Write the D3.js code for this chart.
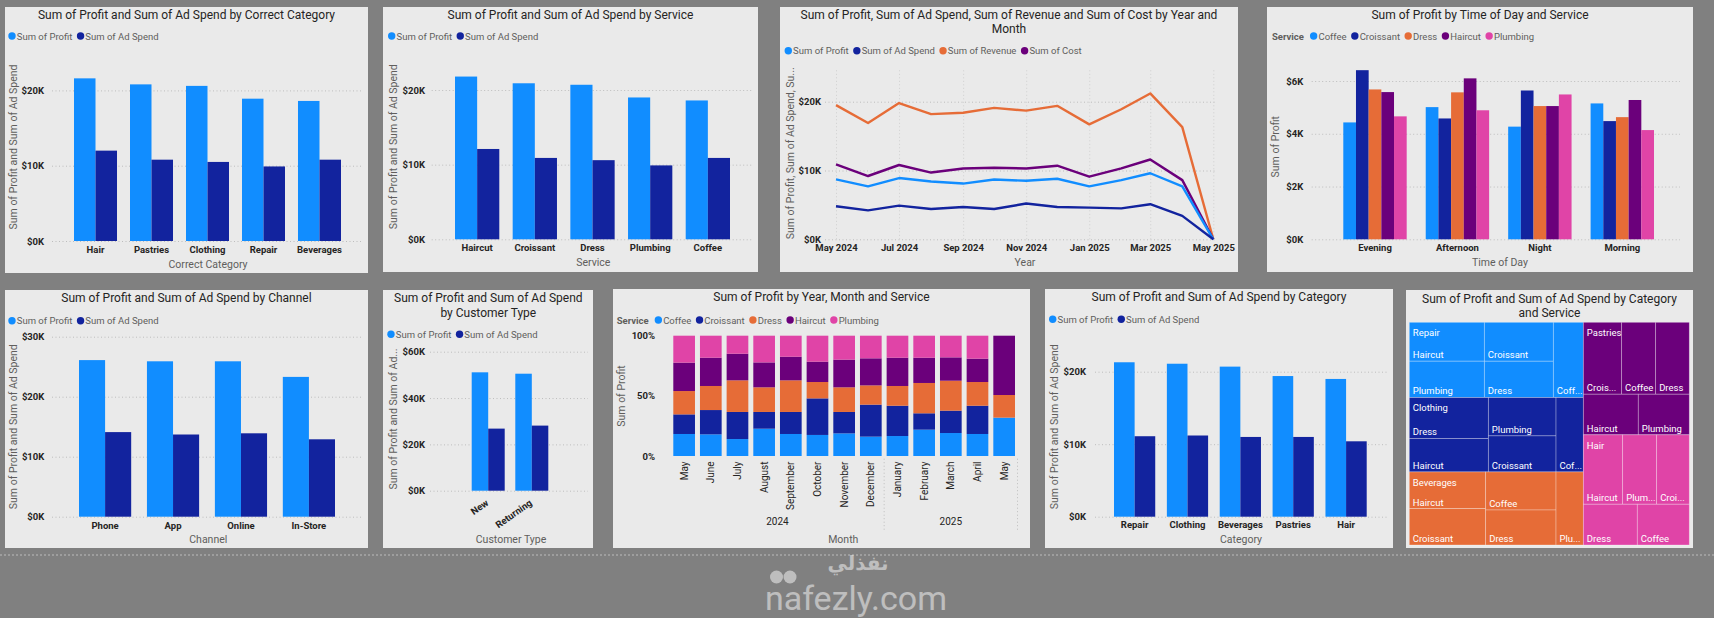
<!DOCTYPE html>
<html>
<head>
<meta charset="utf-8">
<script src="https://cdn.jsdelivr.net/npm/d3@7"></script>
<style>
body { margin: 0; background: #808080; }
svg { display: block; }
</style>
</head>
<body>
<div id="main"></div>
<script>
// ---- data ----
var seriesPA = ["Sum of Profit", "Sum of Ad Spend"];

var correctCategories = ["Hair", "Pastries", "Clothing", "Repair", "Beverages"];
var correctProfit = [21600, 20800, 20600, 18900, 18600];
var correctAdSpend = [12000, 10800, 10500, 9900, 10800];

var services = ["Haircut", "Croissant", "Dress", "Plumbing", "Coffee"];
var serviceProfit = [21800, 20900, 20700, 19000, 18600];
var serviceAdSpend = [12100, 10900, 10600, 9900, 10900];

var lineSeries = ["Sum of Profit", "Sum of Ad Spend", "Sum of Revenue", "Sum of Cost"];
var months = ["2024-05", "2024-06", "2024-07", "2024-08", "2024-09", "2024-10", "2024-11",
              "2024-12", "2025-01", "2025-02", "2025-03", "2025-04", "2025-05"];
var profitByMonth = [8700, 7700, 8900, 8400, 8100, 8700, 8500, 8800, 7700, 8600, 9600, 7700, 0];
var adSpendByMonth = [4800, 4200, 4900, 4400, 4700, 4400, 5200, 4700, 4600, 4500, 5100, 3400, 0];
var revenueByMonth = [19500, 16900, 19800, 18200, 18400, 19100, 18700, 19400, 16700, 18900, 21200, 16300, 0];
var costByMonth = [10900, 9200, 10800, 9700, 10300, 10400, 10300, 10700, 9100, 10300, 11600, 8600, 0];
var lineTicks = ["2024-05", "2024-07", "2024-09", "2024-11", "2025-01", "2025-03", "2025-05"];

var serviceLegend = ["Coffee", "Croissant", "Dress", "Haircut", "Plumbing"];
var timesOfDay = ["Evening", "Afternoon", "Night", "Morning"];
var coffeeByTime = [4430, 5010, 4270, 5150];
var croissantByTime = [6410, 4580, 5640, 4480];
var dressByTime = [5680, 5570, 5050, 4630];
var haircutByTime = [5580, 6100, 5050, 5280];
var plumbingByTime = [4660, 4890, 5490, 4140];

var channels = ["Phone", "App", "Online", "In-Store"];
var channelProfit = [26100, 25900, 25900, 23300];
var channelAdSpend = [14100, 13700, 13900, 12900];

var customerTypes = ["New", "Returning"];
var customerProfit = [51100, 50500];
var customerAdSpend = [26800, 28100];

var monthNames = ["May", "June", "July", "August", "September", "October", "November",
                  "December", "January", "February", "March", "April", "May"];
var monthYears = [2024, 2024, 2024, 2024, 2024, 2024, 2024, 2024, 2025, 2025, 2025, 2025, 2025];
var coffeeShare = [18.3, 18.0, 14.1, 22.7, 18.3, 17.5, 18.8, 16.1, 16.6, 21.9, 19.1, 18.3, 31.9];
var croissantShare = [16.3, 20.2, 22.5, 13.9, 18.3, 30.4, 17.8, 26.6, 25.2, 13.6, 18.6, 23.5, 0];
var dressShare = [19.4, 20.0, 26.3, 20.5, 26.3, 13.6, 20.5, 16.0, 16.4, 25.2, 24.9, 19.7, 18.8];
var haircutShare = [23.6, 23.5, 22.1, 20.7, 19.6, 16.9, 23.0, 22.5, 23.5, 21.0, 19.4, 19.4, 49.3];
var plumbingShare = [22.4, 18.3, 15.0, 22.2, 17.5, 21.6, 19.9, 18.8, 18.3, 18.3, 18.0, 19.1, 0];

var categories = ["Repair", "Clothing", "Beverages", "Pastries", "Hair"];
var categoryProfit = [21300, 21100, 20700, 19400, 19000];
var categoryAdSpend = [11100, 11200, 11000, 11000, 10400];

// treemap: profit by category (rows) and service (columns of serviceLegend)
var repairByService = [3670, 4370, 4070, 4750, 4430];
var clothingByService = [3310, 3970, 5280, 4300, 4230];
var beveragesByService = [4360, 4520, 4010, 4560, 3250];
var pastriesByService = [3980, 4480, 3940, 3630, 3370];
var hairByService = [3450, 3690, 3580, 4440, 3840];

// ---- styles ----
var cBlue = "#118DFF", cNavy = "#12239E", cOrange = "#E66C37", cPurple = "#6B007B", cPink = "#E044A7";
var colors2 = [cBlue, cNavy];
var colors5 = [cBlue, cNavy, cOrange, cPurple, cPink];
var FONT = "Roboto, 'Noto Sans', sans-serif";
var W = 1714, H = 618;

var svg = d3.select('#main').append('svg')
			.attr('width', W)
			.attr('height', H)
			.attr('font-family', FONT);

svg.append('rect').attr('width', W).attr('height', H).attr('fill', '#808080');

function fmtK(v) { return '$' + (v / 1000) + 'K'; }

function box(x0, y0, x1, y1) {
	svg.append('rect')
	   .attr('x', x0).attr('y', y0)
	   .attr('width', x1 - x0).attr('height', y1 - y0)
	   .attr('fill', '#eaeaea');
}

function title(cx, y, lines, gap) {
	lines.forEach(function (t, i) {
		svg.append('text')
		   .attr('x', cx).attr('y', y + i * (gap || 14.5))
		   .attr('text-anchor', 'middle')
		   .attr('dominant-baseline', 'central')
		   .attr('font-size', 12)
		   .attr('fill', '#252423')
		   .text(t);
	});
}

function legend(x, y, names, colors, head) {
	var cur = x;
	if (head) {
		var h = svg.append('text')
				   .attr('x', cur).attr('y', y)
				   .attr('dominant-baseline', 'central')
				   .attr('font-size', 9.5).attr('font-weight', 'bold')
				   .attr('fill', '#605e5c')
				   .text(head);
		cur += h.node().getComputedTextLength() + 6;
	}
	names.forEach(function (n, i) {
		svg.append('circle')
		   .attr('cx', cur + 3.7).attr('cy', y).attr('r', 3.7)
		   .attr('fill', colors[i]);
		var t = svg.append('text')
				   .attr('x', cur + 8.5).attr('y', y)
				   .attr('dominant-baseline', 'central')
				   .attr('font-size', 9.5)
				   .attr('fill', '#605e5c')
				   .text(n);
		cur += 8.5 + t.node().getComputedTextLength() + 4.5;
	});
}

function styleAxis(g) {
	g.attr('font-family', FONT).attr('font-size', 9.5);
	g.select('.domain').remove();
	g.selectAll('.tick text').attr('fill', '#252423');
}

function yAxis(y, ticks, fmt, labelX, gx0, gx1) {
	var g = svg.append('g')
			   .attr('transform', 'translate(' + gx0 + ',0)')
			   .call(d3.axisLeft(y).tickValues(ticks).tickFormat(fmt)
					   .tickSize(-(gx1 - gx0)).tickPadding(gx0 - labelX));
	styleAxis(g);
	g.selectAll('.tick line').attr('stroke', '#bdbdbd').attr('stroke-dasharray', '1,2.5');
	g.selectAll('.tick text').attr('font-weight', 'bold');
	return g;
}

function xAxis(x, y0, cy, fmt) {
	var ax = d3.axisBottom(x).tickSize(0);
	if (fmt) ax.tickFormat(fmt);
	var g = svg.append('g').attr('transform', 'translate(0,' + y0 + ')').call(ax);
	styleAxis(g);
	g.selectAll('.tick text')
	 .attr('y', cy - y0).attr('dy', '0.35em')
	 .attr('font-weight', 'bold');
	return g;
}

function axisTitle(cx, cy, t) {
	svg.append('text')
	   .attr('x', cx).attr('y', cy)
	   .attr('text-anchor', 'middle').attr('dominant-baseline', 'central')
	   .attr('font-size', 10.5).attr('fill', '#605e5c')
	   .text(t);
}

function yTitle(x, cy, t) {
	svg.append('text')
	   .attr('transform', 'translate(' + x + ',' + cy + ') rotate(-90)')
	   .attr('text-anchor', 'middle').attr('dominant-baseline', 'central')
	   .attr('font-size', 10.5).attr('fill', '#605e5c')
	   .text(t);
}

// band scale whose first band starts at x0 and last band ends at x1
function bandScale(domain, x0, x1, p) {
	var n = domain.length, step = (x1 - x0) / (n - p);
	return d3.scaleBand().domain(domain)
			 .range([x0 - step * p / 2, x1 + step * p / 2])
			 .paddingInner(p).paddingOuter(p / 2);
}

function bars(cats, seriesVals, colors, x0, x1, p, y) {
	var x = bandScale(cats, x0, x1, p);
	var xs = d3.scaleBand().domain(d3.range(seriesVals.length)).range([0, x.bandwidth()]);
	seriesVals.forEach(function (vals, s) {
		svg.append('g').attr('fill', colors[s])
		   .selectAll('rect').data(vals).join('rect')
		   .attr('x', function (d, i) { return x(cats[i]) + xs(s); })
		   .attr('y', function (d) { return y(d); })
		   .attr('width', xs.bandwidth())
		   .attr('height', function (d) { return y(0) - y(d); });
	});
	return x;
}

// ---- 1. by Correct Category ----
box(5, 7, 368, 273);
title(186.5, 15, ["Sum of Profit and Sum of Ad Spend by Correct Category"]);
legend(8.3, 36, seriesPA, colors2);
var y1 = d3.scaleLinear().domain([0, 20000]).range([241, 90.4]);
yAxis(y1, [0, 10000, 20000], fmtK, 44, 52, 363);
var x1 = bars(correctCategories, [correctProfit, correctAdSpend], colors2, 74, 341, 0.232, y1);
xAxis(x1, 241, 250);
axisTitle(208, 264, "Correct Category");
yTitle(13, 147, "Sum of Profit and Sum of Ad Spend");

// ---- 2. by Service ----
box(383, 7, 758, 272);
title(570.5, 15, ["Sum of Profit and Sum of Ad Spend by Service"]);
legend(388, 36, seriesPA, colors2);
var y2 = d3.scaleLinear().domain([0, 20000]).range([239.3, 90]);
yAxis(y2, [0, 10000, 20000], fmtK, 425, 431.7, 753);
var x2 = bars(services, [serviceProfit, serviceAdSpend], colors2, 455, 730, 0.232, y2);
xAxis(x2, 239.3, 247.7);
axisTitle(593.3, 262, "Service");
yTitle(393.3, 146.7, "Sum of Profit and Sum of Ad Spend");

// ---- 3. lines by Year and Month ----
box(780, 7, 1238, 272);
title(1009, 15, ["Sum of Profit, Sum of Ad Spend, Sum of Revenue and Sum of Cost by Year and", "Month"], 14);
legend(784.6, 50.7, lineSeries, [cBlue, cNavy, cOrange, cPurple]);
var parseMonth = d3.timeParse('%Y-%m');
var dates = months.map(parseMonth);
var xT = d3.scaleTime().domain([dates[0], dates[dates.length - 1]]).range([836, 1213.3]);
var y3 = d3.scaleLinear().domain([0, 20000]).range([239.3, 101.7]);
yAxis(y3, [0, 10000, 20000], fmtK, 821, 825, 1216.7);
var gx3 = svg.append('g').attr('transform', 'translate(0,239.3)')
			 .call(d3.axisBottom(xT).tickValues(lineTicks.map(parseMonth))
					 .tickFormat(d3.timeFormat('%b %Y')).tickSize(-(239.3 - 68)));
styleAxis(gx3);
gx3.selectAll('.tick line').attr('stroke', '#cfcfcf').attr('stroke-dasharray', '1,2.5');
gx3.selectAll('.tick text').attr('y', 8.7).attr('dy', '0.35em').attr('font-weight', 'bold');

var lineGen = d3.line()
				.x(function (d, i) { return xT(dates[i]); })
				.y(function (d) { return y3(d); });
[revenueByMonth, costByMonth, profitByMonth, adSpendByMonth].forEach(function (vals, i) {
	svg.append('path')
	   .attr('d', lineGen(vals))
	   .attr('fill', 'none')
	   .attr('stroke', [cOrange, cPurple, cBlue, cNavy][i])
	   .attr('stroke-width', 2.4)
	   .attr('stroke-linejoin', 'round');
});
axisTitle(1025, 262, "Year");
yTitle(790, 153.3, "Sum of Profit, Sum of Ad Spend, Su...");

// ---- 4. by Time of Day and Service ----
box(1267, 7, 1693, 272);
title(1480, 15, ["Sum of Profit by Time of Day and Service"]);
legend(1272, 36, serviceLegend, colors5, "Service");
var y4 = d3.scaleLinear().domain([0, 6000]).range([239.3, 81]);
yAxis(y4, [0, 2000, 4000, 6000], fmtK, 1303.3, 1311.7, 1680);
var x4 = bars(timesOfDay, [coffeeByTime, croissantByTime, dressByTime, haircutByTime, plumbingByTime],
			  colors5, 1343.3, 1654, 0.231, y4);
xAxis(x4, 239.3, 247.7);
axisTitle(1500, 262, "Time of Day");
yTitle(1275.7, 146.7, "Sum of Profit");

// ---- 5. by Channel ----
box(5, 290, 368, 548);
title(186.5, 298.3, ["Sum of Profit and Sum of Ad Spend by Channel"]);
legend(8.3, 320.7, seriesPA, colors2);
var y5 = d3.scaleLinear().domain([0, 30000]).range([516.7, 336.7]);
yAxis(y5, [0, 10000, 20000, 30000], fmtK, 44.3, 52, 363);
var x5 = bars(channels, [channelProfit, channelAdSpend], colors2, 79, 335, 0.232, y5);
xAxis(x5, 516.7, 526);
axisTitle(208.3, 539.3, "Channel");
yTitle(13, 426.7, "Sum of Profit and Sum of Ad Spend");

// ---- 6. by Customer Type ----
box(383, 290, 593, 548);
title(488.3, 298.3, ["Sum of Profit and Sum of Ad Spend", "by Customer Type"], 15);
legend(387.3, 334.3, seriesPA, colors2);
var y6 = d3.scaleLinear().domain([0, 60000]).range([490.7, 351.7]);
yAxis(y6, [0, 20000, 40000, 60000], fmtK, 425, 430, 588);
var x6 = bars(customerTypes, [customerProfit, customerAdSpend], colors2, 471.7, 548.3, 0.243, y6);
var gx6 = svg.append('g').attr('transform', 'translate(0,490.7)').call(d3.axisBottom(x6).tickSize(0));
styleAxis(gx6);
gx6.selectAll('.tick text')
   .attr('x', 0).attr('y', 0).attr('dy', '0.35em')
   .attr('text-anchor', 'end').attr('font-weight', 'bold')
   .attr('transform', 'translate(-1,11) rotate(-35)');
axisTitle(511, 539.3, "Customer Type");
yTitle(393.3, 419, "Sum of Profit and Sum of Ad...");

// ---- 7. 100% stacked by Year, Month and Service ----
box(613, 289, 1030, 548);
title(821.5, 296.7, ["Sum of Profit by Year, Month and Service"]);
legend(616.7, 320, serviceLegend, colors5, "Service");
var shareCols = [coffeeShare, croissantShare, dressShare, haircutShare, plumbingShare];
var stackRows = monthNames.map(function (m, i) {
	var r = { idx: i };
	serviceLegend.forEach(function (s, k) { r[s] = shareCols[k][i]; });
	return r;
});
var stacked = d3.stack().keys(serviceLegend).offset(d3.stackOffsetExpand)(stackRows);
var x7 = bandScale(d3.range(monthNames.length), 673.3, 1015, 0.187);
var y7 = d3.scaleLinear().domain([0, 1]).range([456, 335.7]);
yAxis(y7, [0, 0.5, 1], function (v) { return (v * 100) + '%'; }, 655, 662, 662);
stacked.forEach(function (layer, k) {
	svg.append('g').attr('fill', colors5[k])
	   .selectAll('rect').data(layer).join('rect')
	   .attr('x', function (d, i) { return x7(i); })
	   .attr('y', function (d) { return y7(d[1]); })
	   .attr('width', x7.bandwidth())
	   .attr('height', function (d) { return y7(d[0]) - y7(d[1]); });
});
var gx7 = svg.append('g').attr('transform', 'translate(0,456)')
			 .call(d3.axisBottom(x7).tickSize(0).tickFormat(function (i) { return monthNames[i]; }));
styleAxis(gx7);
gx7.attr('font-size', 10);
gx7.selectAll('.tick text')
   .attr('x', 0).attr('y', 0).attr('dy', '0.35em')
   .attr('text-anchor', 'end')
   .attr('transform', 'translate(0,5.5) rotate(-90)');
d3.groups(d3.range(monthNames.length), function (i) { return monthYears[i]; }).forEach(function (g) {
	var idx = g[1];
	var cx = d3.mean(idx, function (i) { return x7(i) + x7.bandwidth() / 2; });
	svg.append('text')
	   .attr('x', cx).attr('y', 521.7)
	   .attr('text-anchor', 'middle').attr('dominant-baseline', 'central')
	   .attr('font-size', 10).attr('fill', '#252423')
	   .text(g[0]);
});
var sepIdx = [monthYears.indexOf(2025), monthNames.length];
sepIdx.forEach(function (i) {
	var sx = x7(i - 1) + x7.bandwidth() + x7.step() * 0.187 / 2;
	svg.append('line')
	   .attr('x1', sx).attr('x2', sx).attr('y1', 458.7).attr('y2', 530)
	   .attr('stroke', '#bdbdbd').attr('stroke-dasharray', '1,2.5');
});
axisTitle(843.3, 539.3, "Month");
yTitle(621.7, 396, "Sum of Profit");

// ---- 8. by Category ----
box(1045, 289, 1393, 548);
title(1219, 296.7, ["Sum of Profit and Sum of Ad Spend by Category"]);
legend(1049, 319.3, seriesPA, colors2);
var y8 = d3.scaleLinear().domain([0, 20000]).range([516.7, 371.7]);
yAxis(y8, [0, 10000, 20000], fmtK, 1086, 1095, 1386.7);
var x8 = bars(categories, [categoryProfit, categoryAdSpend], colors2, 1114, 1366.7, 0.22, y8);
xAxis(x8, 516.7, 525);
axisTitle(1241, 539.3, "Category");
yTitle(1054, 426.7, "Sum of Profit and Sum of Ad Spend");

// ---- 9. treemap by Category and Service ----
box(1406, 290, 1693, 548);
title(1549.5, 299, ["Sum of Profit and Sum of Ad Spend by Category", "and Service"], 13.7);
var treeVals = [repairByService, clothingByService, beveragesByService, pastriesByService, hairByService];
var root = d3.hierarchy({
		children: categories.map(function (c, i) {
			return { name: c, ci: i, children: serviceLegend.map(function (s, j) {
				return { name: s, value: treeVals[i][j] };
			}) };
		})
	})
	.sum(function (d) { return d.value; })
	.sort(function (a, b) { return b.value - a.value; });
d3.treemap().size([280, 222.7]).tile(d3.treemapSquarify)(root);

var tm = svg.append('g').attr('transform', 'translate(1409.3,322.3)');
function fitText(sel, maxW) {
	var full = sel.text();
	if (sel.node().getComputedTextLength() <= maxW) return;
	for (var k = full.length - 1; k > 0; k--) {
		sel.text(full.slice(0, k) + '...');
		if (sel.node().getComputedTextLength() <= maxW) return;
	}
}
root.leaves().forEach(function (leaf) {
	var cat = leaf.parent.data;
	tm.append('rect')
	  .attr('x', leaf.x0).attr('y', leaf.y0)
	  .attr('width', leaf.x1 - leaf.x0).attr('height', leaf.y1 - leaf.y0)
	  .attr('fill', colors5[cat.ci])
	  .attr('stroke', 'rgba(255,255,255,0.35)')
	  .attr('stroke-width', 0.8);
	var t = tm.append('text')
			  .attr('x', leaf.x0 + 3.5).attr('y', leaf.y1 - 6.5)
			  .attr('dominant-baseline', 'central')
			  .attr('font-size', 9.5).attr('fill', '#ffffff')
			  .text(leaf.data.name);
	fitText(t, leaf.x1 - leaf.x0 - 4);
});
root.children.forEach(function (c) {
	tm.append('text')
	  .attr('x', c.x0 + 3.5).attr('y', c.y0 + 10.5)
	  .attr('dominant-baseline', 'central')
	  .attr('font-size', 9.5).attr('fill', '#ffffff')
	  .text(c.data.name);
});

// ---- page footer: dotted rule and watermark ----
svg.append('line')
   .attr('x1', 0).attr('x2', W).attr('y1', 555).attr('y2', 555)
   .attr('stroke', '#a8a8a8').attr('stroke-width', 1.5).attr('stroke-dasharray', '2,2');

var wm = svg.append('g').attr('opacity', 0.55).attr('fill', '#f2f2f2');
wm.append('text')
  .attr('x', 858).attr('y', 563)
  .attr('text-anchor', 'middle').attr('dominant-baseline', 'central')
  .attr('font-family', "'DejaVu Sans', sans-serif").attr('font-weight', 'bold')
  .attr('font-size', 20)
  .text('نفذلي');
wm.append('circle').attr('cx', 776.5).attr('cy', 577).attr('r', 6.5);
wm.append('circle').attr('cx', 790).attr('cy', 577).attr('r', 6.5);
wm.append('text')
  .attr('x', 856).attr('y', 598)
  .attr('text-anchor', 'middle').attr('dominant-baseline', 'central')
  .attr('font-size', 34)
  .text('nafezly.com');
</script>
</body>
</html>
